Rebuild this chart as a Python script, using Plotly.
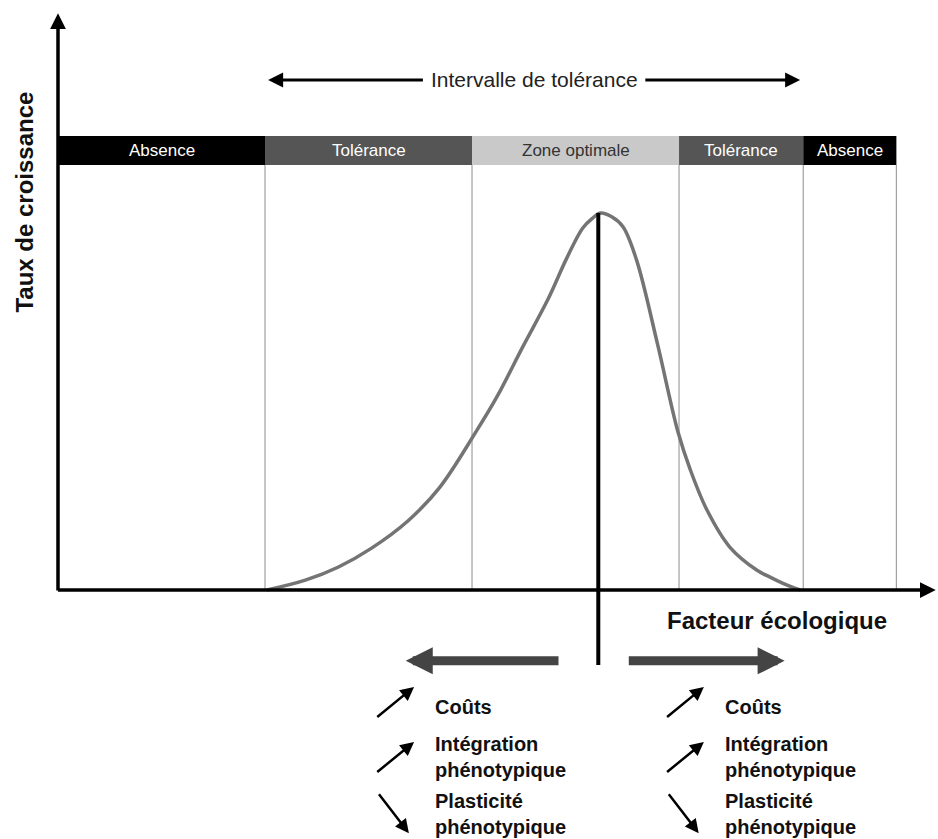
import plotly.graph_objects as go

# Zones le long du facteur écologique
zone_labels = ["Absence", "Tolérance", "Zone optimale", "Tolérance", "Absence"]
zone_edges = [0, 20, 40, 60, 72, 81]

# Courbe de croissance
facteur = [20.2, 23.9, 27.1, 30.3, 33.8, 36.9, 40.3, 42.4, 44.9, 47.3, 49.2, 50.7, 51.6, 52.4,
           53.5, 54.6, 55.9, 57.9, 59.9, 61.1, 62.7, 64.9, 67.5, 68.8, 70.1, 71.7]
croissance = [0, 0.026, 0.061, 0.111, 0.183, 0.273, 0.416, 0.512, 0.645, 0.769, 0.883, 0.960, 0.985, 1.0,
              0.990, 0.963, 0.875, 0.655, 0.419, 0.318, 0.212, 0.114, 0.053, 0.034, 0.017, 0]
optimum = 52.2

# Conséquences de part et d'autre de l'optimum
effets = ["Coûts", "Intégration<br>phénotypique", "Plasticité<br>phénotypique"]

zone_colors = ["#000000", "#555555", "#c9c9c9", "#555555", "#000000"]
zone_text_colors = ["white", "white", "#333333", "white", "white"]
FONT = "Liberation Sans"

HEAD_LO, HEAD_HI = 1.127, 1.204

fig = go.Figure()

# courbe
fig.add_trace(go.Scatter(
    x=facteur, y=croissance, mode="lines",
    line=dict(color="#747474", width=3.5, shape="spline", smoothing=1.0),
    hoverinfo="skip", showlegend=False))

# ligne de l'optimum
fig.add_trace(go.Scatter(
    x=[optimum, optimum], y=[max(croissance), -0.199], mode="lines",
    line=dict(color="black", width=4), hoverinfo="skip", showlegend=False))

shapes = []
annotations = []

# bandeau des zones + lignes verticales
for i, lab in enumerate(zone_labels):
    x0, x1 = zone_edges[i], zone_edges[i + 1]
    shapes.append(dict(type="rect", xref="x", yref="y", x0=x0, x1=x1,
                       y0=HEAD_LO, y1=HEAD_HI, fillcolor=zone_colors[i],
                       line=dict(width=0), layer="below"))
    shapes.append(dict(type="line", xref="x", yref="y", x0=x1, x1=x1,
                       y0=0, y1=HEAD_LO, line=dict(color="#a0a0a0", width=1.2),
                       layer="below"))
    annotations.append(dict(x=(x0 + x1) / 2, y=(HEAD_LO + HEAD_HI) / 2, text=lab,
                            showarrow=False, xref="x", yref="y",
                            font=dict(family=FONT, size=17, color=zone_text_colors[i])))

def arrow(x, y, ax, ay, width, size, color="black"):
    annotations.append(dict(x=x, y=y, ax=ax, ay=ay, xref="x", yref="y",
                            axref="x", ayref="y", text="", showarrow=True,
                            arrowhead=2, arrowwidth=width, arrowsize=size,
                            arrowcolor=color, standoff=0, startstandoff=0))

# axes
arrow(0, 1.53, 0, -0.005, 3.5, 0.9)
arrow(84.8, 0, -0.15, 0, 3.5, 0.9)

# intervalle de tolérance
annotations.append(dict(x=46.0, y=1.353, text="Intervalle de tolérance",
                        showarrow=False, xref="x", yref="y",
                        font=dict(family=FONT, size=21, color="#222")))
arrow(zone_edges[1] + 0.3, 1.353, 35.4, 1.353, 3, 1.0)
arrow(zone_edges[4] - 0.3, 1.353, 56.6, 1.353, 3, 1.0)

# titres d'axes
annotations.append(dict(x=-3.2, y=1.03, text="Taux de croissance", textangle=-90,
                        showarrow=False, xref="x", yref="y",
                        font=dict(family=FONT, size=24, color="#111", weight="bold")))
annotations.append(dict(x=69.5, y=-0.08, text="Facteur écologique",
                        showarrow=False, xref="x", yref="y",
                        font=dict(family=FONT, size=24, color="#111", weight="bold")))

# grosses flèches grises
arrow(33.6, -0.188, 48.5, -0.188, 9, 0.6, "#444444")
arrow(70.2, -0.188, 55.0, -0.188, 9, 0.6, "#444444")

# effets
rows_y = [-0.31, -0.444, -0.593]
for col_x, text_x in [(30.7, 36.2), (58.7, 64.2)]:
    for lab, yy in zip(effets, rows_y):
        annotations.append(dict(x=text_x, y=yy, text=lab, xanchor="left",
                                showarrow=False, xref="x", yref="y", align="left",
                                font=dict(family=FONT, size=20, color="#111", weight="bold")))
    # flèches obliques (augmente, augmente, diminue)
    arrow(col_x + 3.7, -0.257, col_x, -0.34, 2.5, 1.1)
    arrow(col_x + 3.7, -0.403, col_x, -0.486, 2.5, 1.1)
    arrow(col_x + 3.2, -0.645, col_x + 0.2, -0.538, 2.5, 1.1)

fig.update_layout(
    width=938, height=839, autosize=False,
    margin=dict(l=0, r=0, t=0, b=0),
    plot_bgcolor="white", paper_bgcolor="white",
    xaxis=dict(range=[-5.604, 85.02], visible=False, fixedrange=True),
    yaxis=dict(range=[-0.6605, 1.565], visible=False, fixedrange=True),
    shapes=shapes, annotations=annotations,
)

fig.write_html("out.html", config={"displayModeBar": False},
               post_script="document.body.style.margin='0';")
